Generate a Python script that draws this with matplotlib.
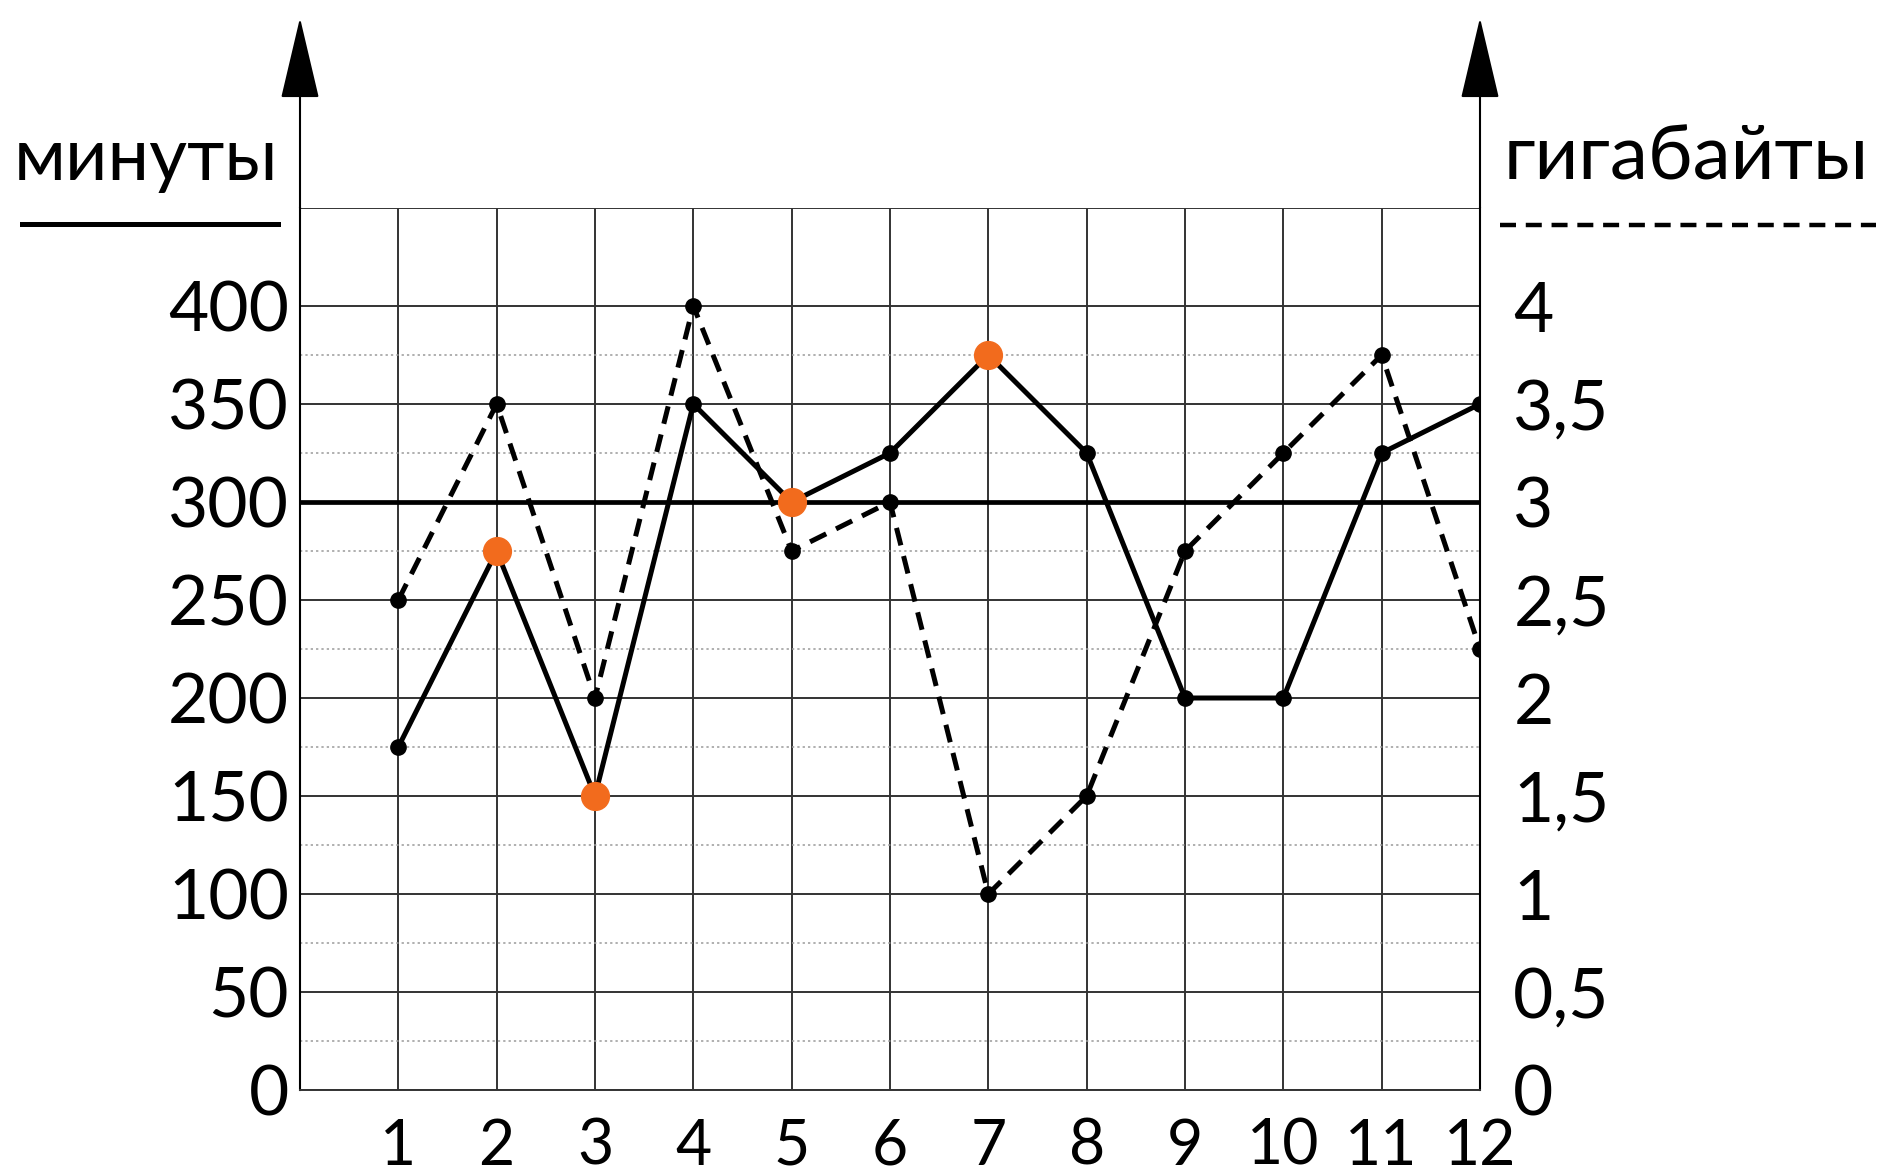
import matplotlib
matplotlib.use("Agg")
import matplotlib.pyplot as plt
from matplotlib.lines import Line2D

plt.rcParams["font.family"] = ["Lato", "DejaVu Sans"]

# ─── data ────────────────────────────────────────────────────────────────
months = [1, 2, 3, 4, 5, 6, 7, 8, 9, 10, 11, 12]
minutes = [175, 275, 150, 350, 300, 325, 375, 325, 200, 200, 325, 350]
gigabytes = [2.5, 3.5, 2.0, 4.0, 2.75, 3.0, 1.0, 1.5, 2.75, 3.25, 3.75, 2.25]
highlight_months = [2, 3, 5, 7]
highlight_minutes = [275, 150, 300, 375]
threshold_minutes = 300

min_ticks = [0, 50, 100, 150, 200, 250, 300, 350, 400]
gb_ticks = [0, 0.5, 1, 1.5, 2, 2.5, 3, 3.5, 4]
gb_tick_labels = ["0", "0,5", "1", "1,5", "2", "2,5", "3", "3,5", "4"]
label_left = "минуты"
label_right = "гигабайты"

ORANGE = "#f26b1d"
GRID = "#333333"
W, H = 1879, 1175

fig = plt.figure(figsize=(W / 100, H / 100), dpi=100)
ax = fig.add_axes([300 / W, 85 / H, 1180 / W, 882 / H])
ax.set_xlim(0, 12)
ax.set_ylim(0, 450)

# grid: solid every 50 (plus the top edge), dotted halfway between (up to 375)
ax.set_yticks(min_ticks + [450])
ax.set_yticks([v + 25 for v in min_ticks[:-1]], minor=True)
ax.set_xticks(months)
ax.grid(which="major", axis="y", color=GRID, lw=1.4)
ax.grid(which="minor", axis="y", color="#9a9a9a", lw=1.1, linestyle=(0, (1.5, 2)))
ax.grid(which="major", axis="x", color=GRID, lw=1.4)
ax.set_axisbelow(True)
ax.set_yticklabels([str(v) for v in min_ticks] + [""])
ax.tick_params(axis="y", which="both", length=0, pad=8, labelsize=50)
ax.tick_params(axis="x", length=0, pad=20, labelsize=45)

ax.spines["top"].set_visible(False)
ax.spines["bottom"].set_color(GRID)
ax.spines["bottom"].set_linewidth(1.4)
for side in ("left", "right"):
    ax.spines[side].set_color("black")
    ax.spines[side].set_linewidth(1.5)

# threshold line
ax.axhline(threshold_minutes, color="black", lw=3.4, zorder=3)

# minutes line
ax.plot(months, minutes, color="black", lw=3.6, marker="o", ms=11, zorder=4)

# axis arrows
arrow_style = "-|>,head_length=5.3,head_width=1.25"
for xa in (0, 12):
    ax.annotate("", xy=(xa, 547), xytext=(xa, 450),
                arrowprops=dict(arrowstyle=arrow_style, color="black", lw=1.5,
                                shrinkA=0, shrinkB=0),
                annotation_clip=False)

# gigabytes on secondary axis
ax2 = ax.twinx()
ax2.set_ylim(0, 4.5)
ax2.set_yticks(gb_ticks)
ax2.set_yticklabels(gb_tick_labels)
ax2.tick_params(axis="y", length=0, pad=24, labelsize=50)
for s in ax2.spines.values():
    s.set_visible(False)
ax2.plot(months, gigabytes, color="black", lw=3.6, dashes=(3.6, 2.2),
         marker="o", ms=11, zorder=4)

# highlighted points
ax2.plot(highlight_months, highlight_minutes, linestyle="none", marker="o",
         ms=20, color=ORANGE, transform=ax.transData, zorder=6)

# axis titles with legend strokes
fig.text(278 / W, 1 - 180 / H, label_left, ha="right", va="baseline", fontsize=53)
fig.text(1504 / W, 1 - 180 / H, label_right, ha="left", va="baseline", fontsize=55)
fig.add_artist(Line2D([22 / W, 278 / W], [1 - 224 / H] * 2, color="black", lw=3.6))
fig.add_artist(Line2D([1500 / W, 1876 / W], [1 - 225 / H] * 2, color="black", lw=3.2,
                      dashes=(3.6, 2.2)))

fig.savefig("out.png", dpi=100)
